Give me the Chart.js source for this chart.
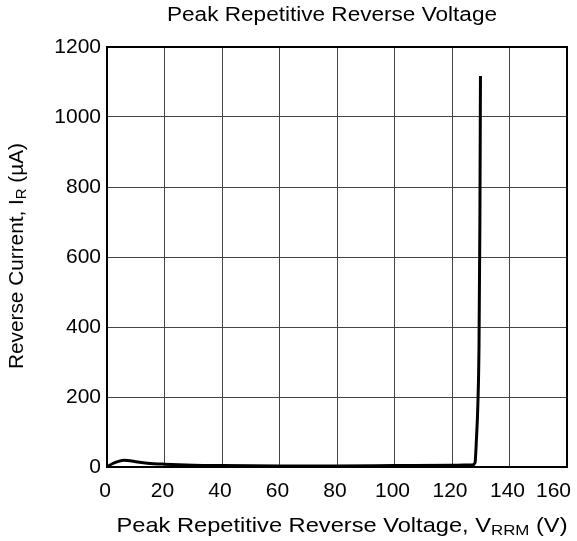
<!DOCTYPE html>
<html>
<head>
<meta charset="utf-8">
<script src="https://cdn.jsdelivr.net/npm/chart.js@4/dist/chart.umd.min.js"></script>
<style>
  html, body { margin: 0; padding: 0; background: #fff; }
  #wrap { width: 577px; height: 541px; }
</style>
</head>
<body>
<div id="wrap"><canvas id="irChart" width="577" height="541"></canvas></div>
<script>
// values
const voltage = [0, 2, 4, 6, 8, 10, 14, 20, 30, 40, 60, 80, 100, 120, 127, 128, 128.5, 129, 129.4, 129.7, 129.9];
const current = [0, 10, 16, 19, 18, 15, 11, 8, 5, 4, 3, 3, 4, 5, 6, 12, 80, 180, 350, 700, 1117];

const xTicks = [0, 20, 40, 60, 80, 100, 120, 140, 160];
const yTicks = [0, 200, 400, 600, 800, 1000, 1200];

const FONT = '"Liberation Sans", Arial, sans-serif';

// label with optional subscript pieces, squeezed/stretched to a target width
function drawRich(ctx, parts, cx, cy, size, target) {
    const subSize = Math.round(size * 0.7);
    let total = 0;
    parts.forEach(p => {
        ctx.font = (p.sub ? subSize : size) + 'px ' + FONT;
        p.w = ctx.measureText(p.t).width;
        total += p.w;
    });
    const k = target ? target / total : 1;
    ctx.save();
    ctx.translate(cx, cy);
    ctx.scale(k, 1);
    let x = -total / 2;
    ctx.textBaseline = 'middle';
    ctx.textAlign = 'left';
    parts.forEach(p => {
        ctx.font = (p.sub ? subSize : size) + 'px ' + FONT;
        ctx.fillText(p.t, x, p.sub ? size * 0.22 : 0);
        x += p.w;
    });
    ctx.restore();
}

const labelsPlugin = {
    id: 'labels',
    afterDraw(chart) {
        const ctx = chart.ctx;
        const a = chart.chartArea;
        const xs = chart.scales.x;

        ctx.save();
        ctx.strokeStyle = '#000';
        ctx.lineWidth = 2;
        ctx.strokeRect(a.left, a.top, a.right - a.left, a.bottom - a.top);
        ctx.restore();

        ctx.save();
        ctx.fillStyle = '#000';
        // x tick labels (last one pulled in to stay on the canvas)
        ctx.font = '21px ' + FONT;
        ctx.textAlign = 'center';
        ctx.textBaseline = 'middle';
        xTicks.forEach(v => {
            const w = ctx.measureText(String(v)).width;
            let cx = xs.getPixelForValue(v) - 2;
            cx = Math.min(cx, 571 - w / 2);
            ctx.fillText(String(v), cx, a.bottom + 24);
        });

        drawRich(ctx, [{ t: 'Peak Repetitive Reverse Voltage' }], 332, 15, 20, 330);
        drawRich(ctx, [{ t: 'Peak Repetitive Reverse Voltage, V' }, { t: 'RRM', sub: true }, { t: ' (V)' }], 342, 526, 21, 451);
        ctx.translate(17, 256);
        ctx.rotate(-Math.PI / 2);
        drawRich(ctx, [{ t: 'Reverse Current, I' }, { t: 'R', sub: true }, { t: ' (\u00B5A)' }], 0, 0, 21, 226);
        ctx.restore();
    }
};

new Chart(document.getElementById('irChart'), {
    type: 'scatter',
    data: {
        datasets: [{
            data: voltage.map((v, i) => ({ x: v, y: current[i] })),
            showLine: true,
            borderColor: '#000',
            borderWidth: 3,
            pointRadius: 0,
            cubicInterpolationMode: 'monotone',
            fill: false
        }]
    },
    options: {
        responsive: false,
        animation: false,
        layout: { padding: { top: 47, right: 10, left: 0, bottom: 0 } },
        plugins: {
            legend: { display: false },
            tooltip: { enabled: false }
        },
        scales: {
            x: {
                type: 'linear',
                min: 0,
                max: 160,
                afterBuildTicks: s => { s.ticks = xTicks.map(v => ({ value: v })); },
                afterFit: s => { s.height = 74; s.paddingLeft = 0; s.paddingRight = 0; },
                grid: { color: '#444', lineWidth: 1, drawTicks: false },
                border: { display: false },
                ticks: { display: false }
            },
            y: {
                min: 0,
                max: 1200,
                afterBuildTicks: s => { s.ticks = yTicks.map(v => ({ value: v })); },
                afterFit: s => { s.width = 107; s.paddingTop = 0; s.paddingBottom = 0; },
                grid: { color: '#444', lineWidth: 1, drawTicks: false },
                border: { display: false },
                ticks: {
                    color: '#000',
                    font: { family: FONT, size: 21 },
                    padding: 6,
                    callback: v => String(v)
                }
            }
        }
    },
    plugins: [labelsPlugin]
});
</script>
</body>
</html>
